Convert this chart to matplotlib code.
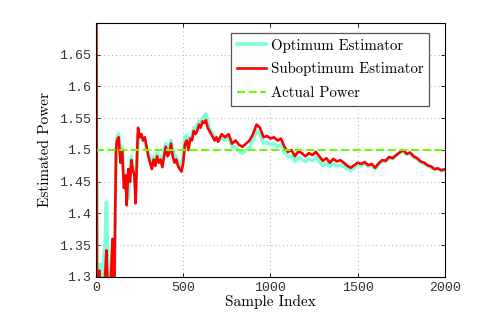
import matplotlib
matplotlib.use("Agg")
import matplotlib.pyplot as plt

samples = ([0, 6, 10, 20, 25, 30, 40, 50, 60, 65, 70, 80, 90, 95, 100, 105, 110, 115,
            120, 130, 140, 150, 160, 170, 176, 185, 195, 203, 210, 220, 227, 235, 241]
           + list(range(250, 701, 10)) + list(range(720, 2001, 20)))

suboptimum = [2.0, 1.25, 1.27, 1.31, 1.28, 1.25, 1.27, 1.29, 1.342, 1.30, 1.28, 1.27, 1.33,
              1.36, 1.30, 1.27, 1.40, 1.50, 1.515, 1.52, 1.48, 1.50, 1.44, 1.46, 1.413, 1.47,
              1.45, 1.484, 1.47, 1.46, 1.416, 1.49, 1.535,
              1.52, 1.525, 1.515, 1.52, 1.505, 1.49, 1.48, 1.47, 1.485, 1.475,
              1.49, 1.48, 1.485, 1.473, 1.49, 1.505, 1.49, 1.495, 1.51, 1.49,
              1.48, 1.485, 1.475, 1.47, 1.466, 1.48, 1.51, 1.515, 1.50, 1.518,
              1.515, 1.53, 1.525, 1.53, 1.54, 1.535, 1.545, 1.543, 1.547, 1.535,
              1.53, 1.525, 1.52, 1.515, 1.52, 1.513,
              1.525, 1.52, 1.525, 1.51, 1.515, 1.508, 1.505, 1.51, 1.515, 1.525,
              1.54, 1.535, 1.52, 1.522, 1.518, 1.52, 1.515, 1.518, 1.505, 1.497,
              1.50, 1.49, 1.498, 1.495, 1.49, 1.495, 1.492, 1.497, 1.49, 1.483,
              1.487, 1.48, 1.486, 1.482, 1.484, 1.48, 1.475, 1.472, 1.476, 1.48,
              1.478, 1.481, 1.476, 1.478, 1.472, 1.479, 1.484, 1.483, 1.489, 1.487,
              1.492, 1.496, 1.50, 1.494, 1.496, 1.49, 1.487, 1.482, 1.48, 1.476,
              1.474, 1.47, 1.471, 1.468, 1.47]

optimum = [1.75, 1.26, 1.28, 1.30, 1.32, 1.29, 1.31, 1.34, 1.418, 1.36, 1.30, 1.28, 1.31,
           1.34, 1.32, 1.29, 1.38, 1.50, 1.52, 1.525, 1.50, 1.505, 1.46, 1.44, 1.43, 1.424,
           1.47, 1.49, 1.475, 1.47, 1.44, 1.48, 1.525,
           1.52, 1.52, 1.515, 1.515, 1.50, 1.495, 1.49, 1.48, 1.49, 1.485,
           1.495, 1.49, 1.49, 1.485, 1.50, 1.51, 1.50, 1.505, 1.515, 1.50,
           1.49, 1.49, 1.48, 1.475, 1.47, 1.49, 1.52, 1.524, 1.51, 1.52,
           1.52, 1.535, 1.53, 1.54, 1.545, 1.545, 1.55, 1.552, 1.557, 1.545,
           1.535, 1.53, 1.525, 1.52, 1.52, 1.515,
           1.52, 1.515, 1.52, 1.505, 1.505, 1.498, 1.495, 1.50, 1.505, 1.515,
           1.53, 1.525, 1.51, 1.512, 1.508, 1.51, 1.506, 1.508, 1.497, 1.49,
           1.49, 1.482, 1.488, 1.485, 1.482, 1.486, 1.483, 1.488, 1.482, 1.476,
           1.479, 1.474, 1.478, 1.475, 1.477, 1.474, 1.47, 1.468, 1.472, 1.477,
           1.476, 1.479, 1.474, 1.476, 1.47, 1.477, 1.482, 1.482, 1.488, 1.486,
           1.491, 1.495, 1.499, 1.493, 1.495, 1.489, 1.486, 1.481, 1.479, 1.475,
           1.473, 1.469, 1.47, 1.467, 1.469]

actual_power = 1.5
yticks = [1.3, 1.35, 1.4, 1.45, 1.5, 1.55, 1.6, 1.65]
xticks = [0, 500, 1000, 1500, 2000]

serif = "cmr10"
mono = "Liberation Mono"

fig = plt.figure(figsize=(4.91, 3.12), dpi=100)
ax = fig.add_axes([0.1955, 0.1122, 0.7108, 0.8141])

ax.plot(samples, optimum, color="#7fffd9", lw=2.6, label="Optimum Estimator")
ax.plot(samples, suboptimum, color="red", lw=1.9, label="Suboptimum Estimator")
ax.axhline(actual_power, color="#66ff00", lw=1.5, ls=(0, (3.8, 1.8)), label="Actual Power")

ax.set_xlim(0, 2000)
ax.set_ylim(1.3, 1.7)
ax.set_xticks(xticks)
ax.set_yticks(yticks)
ax.set_xticklabels([str(t) for t in xticks], family=mono, fontsize=9.5, color="#333333")
ax.set_yticklabels([f"{t:g}" for t in yticks], family=mono, fontsize=9.5, color="#333333")
ax.tick_params(direction="in", length=3, width=0.6, top=True, right=True)
ax.grid(True, ls=(0, (1, 3)), color="#b0b0b0", lw=0.7)
for s in ax.spines.values():
    s.set_linewidth(0.8)

ax.set_xlabel("Sample Index", family=serif, fontsize=11, labelpad=1)
ax.set_ylabel("Estimated Power", family=serif, fontsize=11, labelpad=5)

leg = ax.legend(loc="upper right", bbox_to_anchor=(0.955, 0.962), prop={"family": serif, "size": 10.7},
                fancybox=False, framealpha=1, edgecolor="#555555", handlelength=2.0,
                handletextpad=0.3, borderpad=0.4, labelspacing=0.65, borderaxespad=0)
leg.get_frame().set_linewidth(0.9)

fig.savefig("out.png", dpi=100)
